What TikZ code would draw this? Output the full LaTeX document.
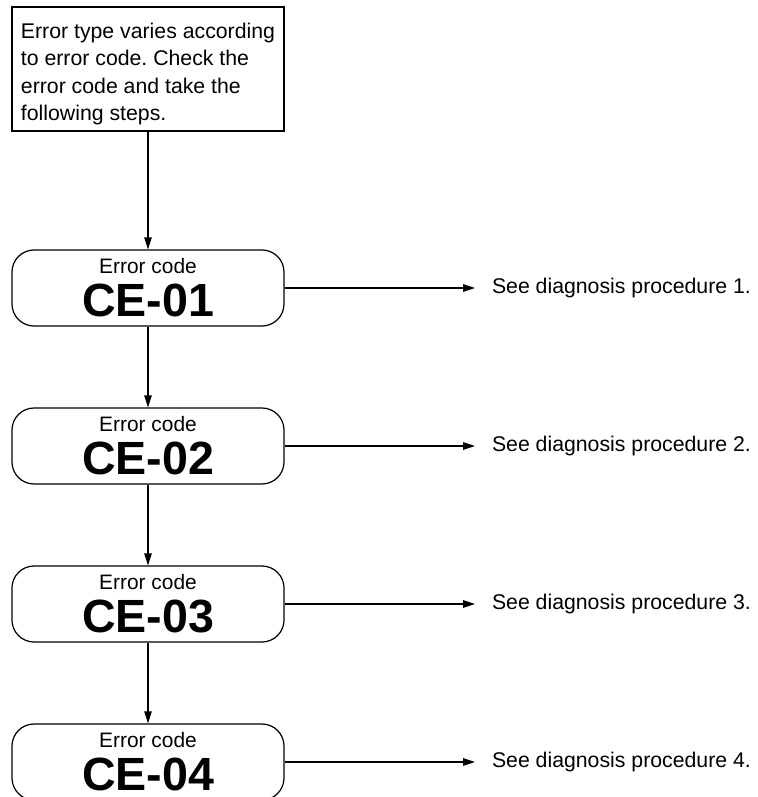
\documentclass[tikz,border=0pt]{standalone}
\usepackage{fontspec}
\setmainfont{Liberation Sans}
\usepackage{tikz}
\usetikzlibrary{arrows.meta, positioning}
\frenchspacing

\begin{document}
\begin{tikzpicture}[
        line width=0.7pt,
        note/.style={rectangle, draw, minimum width=5.44cm, minimum height=2.48cm, align=left, inner sep=0pt, font=\fontsize{12.1pt}{15.5pt}\selectfont},
        codebox/.style={rectangle, rounded corners=0.44cm, draw, minimum width=5.44cm, minimum height=1.52cm, align=center, inner sep=0pt, font=\fontsize{11.9pt}{24.6pt}\selectfont},
        seetext/.style={anchor=west, inner xsep=0.34cm, outer sep=0pt, font=\fontsize{12.1pt}{14pt}\selectfont},
        arr/.style={-{Triangle[length=2.4mm, width=1.5mm]}}
    ]
        \useasboundingbox (0, 0) rectangle (15.14, -15.94);
        \clip (0, 0) rectangle (15.14, -15.94);

        % Intro note
        \node[note] (intro) at (2.96, -1.38) {\rule{0pt}{14.5pt}Error type varies according\\to error code. Check the\\error code and take the\\following steps.};

        % Error codes
        \node[codebox] (ce1) at (2.96, -5.76) {Error code\\{\fontsize{26.5pt}{26.5pt}\selectfont\bfseries CE-01}};
        \node[codebox] (ce2) at (2.96, -8.92) {Error code\\{\fontsize{26.5pt}{26.5pt}\selectfont\bfseries CE-02}};
        \node[codebox] (ce3) at (2.96, -12.08) {Error code\\{\fontsize{26.5pt}{26.5pt}\selectfont\bfseries CE-03}};
        \node[codebox] (ce4) at (2.96, -15.24) {Error code\\{\fontsize{26.5pt}{26.5pt}\selectfont\bfseries CE-04}};

        % Procedures
        \node[seetext] (see1) at (9.5, -5.76) {See diagnosis procedure 1.};
        \node[seetext] (see2) at (9.5, -8.92) {See diagnosis procedure 2.};
        \node[seetext] (see3) at (9.5, -12.08) {See diagnosis procedure 3.};
        \node[seetext] (see4) at (9.5, -15.24) {See diagnosis procedure 4.};

        % Connections
        \draw[arr] (intro) -- (ce1);
        \draw[arr] (ce1) -- (ce2);
        \draw[arr] (ce2) -- (ce3);
        \draw[arr] (ce3) -- (ce4);
        \draw[arr] (ce1) -- (see1);
        \draw[arr] (ce2) -- (see2);
        \draw[arr] (ce3) -- (see3);
        \draw[arr] (ce4) -- (see4);
    \end{tikzpicture}
\end{document}
